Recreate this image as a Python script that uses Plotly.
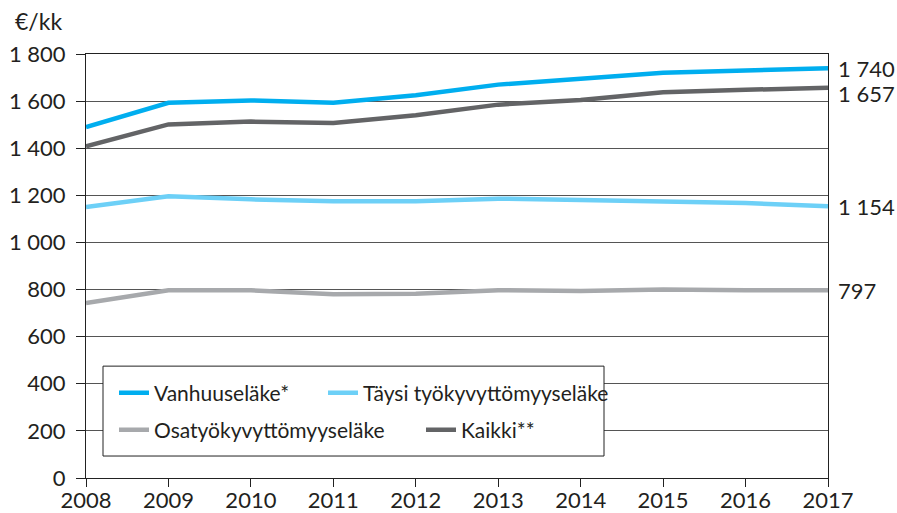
import plotly.graph_objects as go

years = [2008, 2009, 2010, 2011, 2012, 2013, 2014, 2015, 2016, 2017]
vanhuus = [1490, 1593, 1603, 1593, 1625, 1670, 1695, 1720, 1730, 1740]
taysi = [1150, 1196, 1183, 1175, 1175, 1186, 1180, 1175, 1167, 1154]
osa = [743, 797, 797, 780, 782, 797, 794, 800, 797, 797]
kaikki = [1408, 1501, 1513, 1507, 1540, 1585, 1605, 1638, 1648, 1657]

series_names = ["Vanhuuseläke*", "Täysi työkyvyttömyyseläke", "Osatyökyvyttömyyseläke", "Kaikki**"]
series_values = [vanhuus, taysi, osa, kaikki]
colors = ["#00AEEF", "#6DD0F7", "#A7A9AC", "#636466"]
legend_ids = ["legend", "legend2", "legend3", "legend4"]
end_labels = ["1 740", "1 154", "797", "1 657"]
end_shift = [0, 0, 0, -6]

y_tickvals = [0, 200, 400, 600, 800, 1000, 1200, 1400, 1600, 1800]
y_ticktext = ["0", "200", "400", "600", "800", "1 000", "1 200", "1 400", "1 600", "1 800"]

FONT = "Lato"
TXT = "#231f20"
PW, PH = 742, 424.5  # plot area size in px


def px_x(p):
    return (p - 86) / PW


def px_y(p):
    return (478 - p) / PH


fig = go.Figure()
for name, vals, col, lg in zip(series_names, series_values, colors, legend_ids):
    fig.add_trace(go.Scatter(x=years, y=vals, name=name, mode="lines",
                             legend=lg, line=dict(color=col, width=4.5)))

for vals, lab, sh in zip(series_values, end_labels, end_shift):
    fig.add_annotation(x=years[-1], y=vals[-1], text=lab, xref="x", yref="y",
                       xanchor="left", yanchor="middle", showarrow=False,
                       xshift=8, yshift=sh, font=dict(size=22, color=TXT, family=FONT))

fig.add_annotation(x=px_x(13), y=px_y(20), xref="paper", yref="paper",
                   text="€/kk", showarrow=False, xanchor="left", yanchor="middle",
                   font=dict(size=23, color=TXT, family=FONT))

# legend frame
fig.add_shape(type="rect", xref="paper", yref="paper",
              x0=px_x(103), x1=px_x(604), y0=px_y(456), y1=px_y(366),
              fillcolor="white", line=dict(color="#222", width=1), layer="above")

leg_common = dict(orientation="v", yanchor="middle", xanchor="left",
                  bgcolor="rgba(0,0,0,0)", borderwidth=0,
                  font=dict(size=21, color=TXT, family=FONT), itemwidth=30)

fig.update_layout(
    width=897, height=513,
    margin=dict(l=86, r=69, t=53.5, b=35),
    paper_bgcolor="white", plot_bgcolor="white",
    font=dict(family=FONT, size=22, color=TXT),
    showlegend=True,
    legend=dict(x=px_x(114), y=px_y(393), **leg_common),
    legend2=dict(x=px_x(323), y=px_y(393), **leg_common),
    legend3=dict(x=px_x(114), y=px_y(430), **leg_common),
    legend4=dict(x=px_x(421), y=px_y(430), **leg_common),
    xaxis=dict(range=[2008, 2017], tickvals=years, ticks="outside", ticklen=8,
               tickcolor="#222", showgrid=False, showline=True, linecolor="#222",
               linewidth=1, mirror=True, zeroline=False, automargin=False,
               ticklabelstandoff=-5,
               tickfont=dict(size=22, color=TXT, family=FONT)),
    yaxis=dict(range=[0, 1800], tickvals=y_tickvals, ticktext=y_ticktext,
               ticks="outside", ticklen=9, tickcolor="#222", showgrid=True,
               gridcolor="#555", gridwidth=1, showline=True, linecolor="#222",
               linewidth=1, mirror=True, zeroline=False, automargin=False,
               ticklabelstandoff=6,
               tickfont=dict(size=22, color=TXT, family=FONT)),
)

fig.write_html("out.html", config={"displayModeBar": False},
               post_script="document.body.style.margin='0';")
